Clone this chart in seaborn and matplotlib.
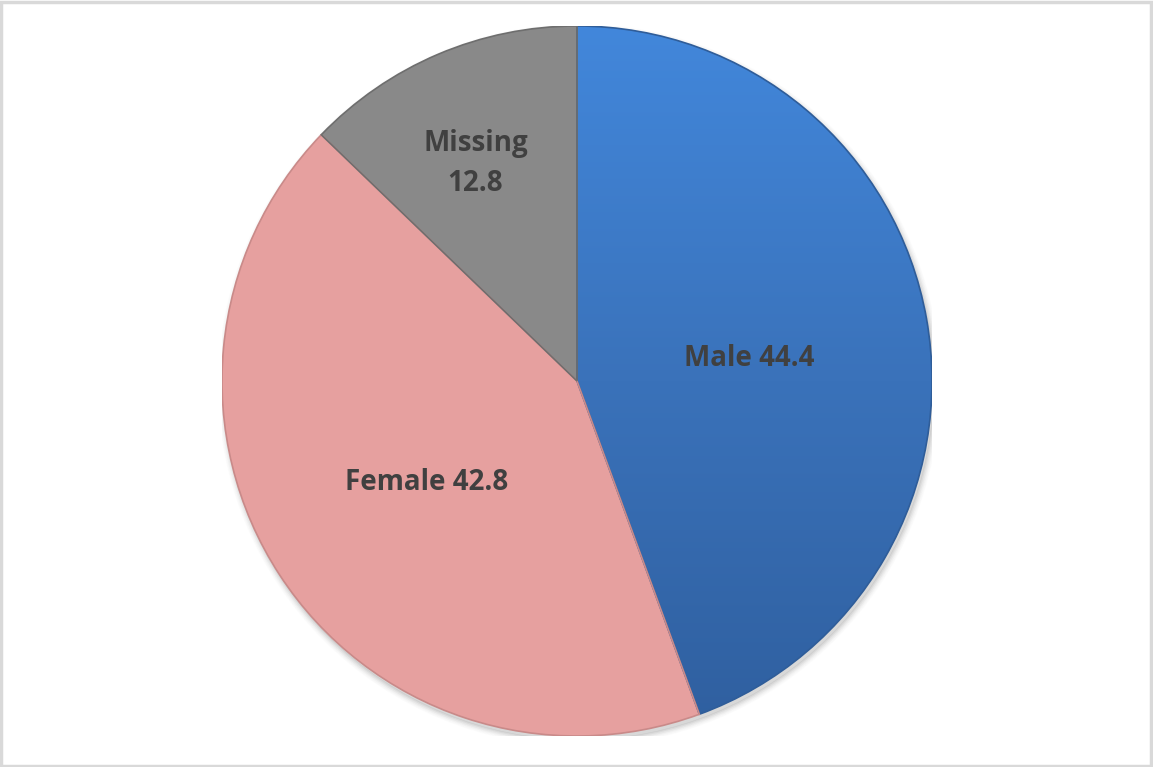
import numpy as np
import matplotlib
import matplotlib.pyplot as plt
import seaborn as sns
from matplotlib.patches import Rectangle, Wedge
from matplotlib.colors import LinearSegmentedColormap
matplotlib.use('Agg')

# data
labels = ["Male", "Female", "Missing"]
values = [44.4, 42.8, 12.8]
texts = ["Male 44.4", "Female 42.8", "Missing\n12.8"]
colors = ["#3d7fd0", "#e6a09f", "#898989"]
edge_colors = ["#2f5d99", "#c98a89", "#6e6e6e"]
label_dist = [0.49, 0.51, 0.675]
label_shift = [-2.5, 1.0, 2.0]  # degrees

sns.set_theme(style="white")
plt.rcParams['font.family'] = ['Open Sans', 'DejaVu Sans']

fig = plt.figure(figsize=(11.53, 7.67), dpi=100)
fig.patch.set_facecolor("white")
# pie centre (577, 381) px, radius 355 px
cx, cy, r = 577, 381, 355
ax = fig.add_axes([(cx - r) / 1153, (767 - cy - r) / 767, 2 * r / 1153, 2 * r / 767])
ax.axis("off")

# soft shadow under the pie
for k, a in enumerate(np.linspace(0.05, 0.01, 5)):
    ax.add_patch(plt.Circle((0.006, -0.012), 1.0 + 0.004 * k, color="black", alpha=a, zorder=0))

wedges, _ = ax.pie(values, colors=colors, startangle=90, counterclock=False,
                   radius=1.0, center=(0, 0), frame=False,
                   wedgeprops=dict(edgecolor="none", linewidth=0))
ax.set_xlim(-1, 1)
ax.set_ylim(-1, 1)
ax.set_aspect("auto")

# vertical gradient on the male slice
blue = LinearSegmentedColormap.from_list("blue", ["#2f5f9f", "#3a72ba", "#4287db"])
grad = np.linspace(0, 1, 256).reshape(-1, 1)
im = ax.imshow(grad, extent=(-1, 1, -1, 1), origin="lower", cmap=blue,
               aspect="auto", zorder=1.1)
im.set_clip_path(wedges[0])

for w, ec in zip(wedges, edge_colors):
    w.set_zorder(1)
    ax.add_patch(Wedge(w.center, w.r, w.theta1, w.theta2,
                       facecolor="none", edgecolor=ec, linewidth=1.2, zorder=3))

for w, t, d, s in zip(wedges, texts, label_dist, label_shift):
    mid = np.deg2rad((w.theta1 + w.theta2) / 2 + s)
    ax.text(d * np.cos(mid), d * np.sin(mid), t, ha="center", va="center",
            fontsize=20, fontweight="bold", color="#404040", linespacing=1.5, zorder=4)

fig.add_artist(Rectangle((0.001, 0.001), 0.997, 0.997, transform=fig.transFigure,
                         fill=False, edgecolor="#d9d9d9", linewidth=2.5))

fig.savefig("out.png", dpi=100)
